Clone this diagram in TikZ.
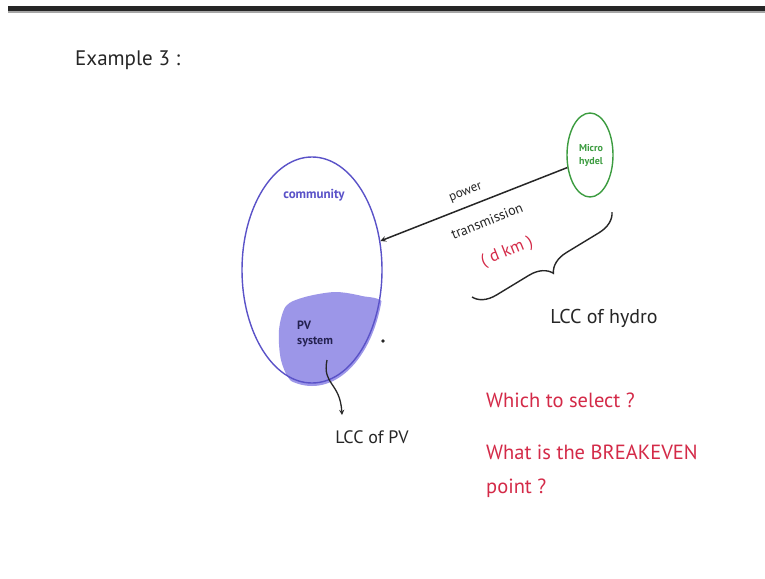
\documentclass[tikz,border=0pt]{standalone}
\usepackage{fontspec}
\setmainfont{PT Sans}
\usepackage{xcolor}
\usepackage{tikz}
\usetikzlibrary{shapes.geometric,positioning,decorations.pathreplacing}
\definecolor{commblue}{HTML}{5A52C8}
\definecolor{pvfill}{HTML}{9C96E8}
\definecolor{hydgreen}{HTML}{3C9C40}
\definecolor{penred}{HTML}{D42A48}
\definecolor{pen}{HTML}{262626}
\tikzset{ell/.style={ellipse,draw,inner sep=0pt}}
\tikzset{hand/.style={inner sep=0pt,text=pen}}
\tikzset{redhand/.style={inner sep=1pt,text=penred,anchor=west,font=\fontsize{20.5}{22}\selectfont}}

\begin{document}
\begin{tikzpicture}[x=1pt,y=-1pt,>=stealth]
        \useasboundingbox (0,0) rectangle (765,578);
        \fill[white] (0,0) rectangle (765,578);
        \fill[black!85] (8,6) rectangle (765,11);
        \fill[black!35] (8,11) rectangle (765,13);

        \node[hand,anchor=west,font=\fontsize{21}{24}\selectfont] (title) at (75,60) {Example 3 :};

        % pv system blob
        \begin{scope}
            \clip (312,271) ellipse (72pt and 115pt);
            \fill[pvfill] plot[smooth cycle] coordinates {(279,330) (286,306) (305,297) (335,292) (362,296) (384,304) (390,350) (360,392) (320,395) (292,382) (281,360)};
        \end{scope}
        \node[ell,draw=commblue,line width=1.4pt,minimum width=140pt,minimum height=226pt] (comm) at (312,270) {};
        \node[ell,draw=hydgreen,line width=1.4pt,minimum width=46pt,minimum height=84pt] (hydel) at (590,155) {};

        \node[hand,text=commblue,font=\bfseries\fontsize{13}{15}\selectfont] (commtext) at (314,195) {community};
        \node[hand,text=hydgreen,align=center,font=\bfseries\fontsize{10}{13}\selectfont] (hydtext) at (591,155) {Micro\\hydel};
        \node[hand,anchor=west,align=left,text=commblue!40!black,font=\bfseries\fontsize{12}{15}\selectfont] (pv) at (297,334) {PV\\system};
        \fill[pen] (383,341) circle (1.8);

        \draw[->,pen,line width=1.5pt] (hydel.209) -- (comm.23);
        \node[hand,rotate=22,font=\fontsize{13}{15}\selectfont] (power) at (466,193) {power};
        \node[hand,rotate=22,font=\fontsize{14}{15}\selectfont] (trans) at (487,221) {transmission};
        \node[hand,rotate=22,text=penred,font=\fontsize{17}{17}\selectfont] (dist) at (507,252) {( d km )};

        \coordinate (bracetop) at (612,212);
        \coordinate (bracebot) at (472,297);
        \draw[pen,line width=1.4pt,decorate,decoration={brace,amplitude=22pt}] (bracetop) -- (bracebot);
        \node[hand,font=\fontsize{20}{20}\selectfont] (lcchydro) at (604,318) {LCC of hydro};

        \coordinate (pvtip) at (342,415);
        \node[hand,font=\fontsize{18}{17}\selectfont] (lccpv) at (372,437) {LCC of PV};
        \draw[->,pen,line width=1.3pt] (327,360) .. controls (322,385) and (340,382) .. (pvtip);

        \node[redhand] (q1) at (485,400) {Which to select ?};
        \node[redhand] (q2) at (485,452) {What is the BREAKEVEN};
        \node[redhand] (q3) at (485,488) {point ?};
\end{tikzpicture}
\end{document}
